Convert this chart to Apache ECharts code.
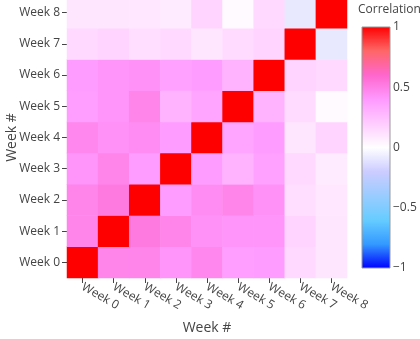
<!DOCTYPE html>
<html>
<head>
<meta charset="utf-8">
<script src="https://cdn.jsdelivr.net/npm/echarts@6/dist/echarts.min.js"></script>
<style>html,body{margin:0;padding:0;background:#fff}#c{width:420px;height:339px}</style>
</head>
<body>
<div id="c"></div>
<script>
const weeks = ['Week 0','Week 1','Week 2','Week 3','Week 4','Week 5','Week 6','Week 7','Week 8'];
// correlation rows (row i = Week i on y axis, entries by x-axis week)
const week0 = [1.00, 0.48, 0.48, 0.42, 0.47, 0.38, 0.39, 0.15, 0.10];
const week1 = [0.48, 1.00, 0.52, 0.48, 0.43, 0.42, 0.42, 0.17, 0.10];
const week2 = [0.48, 0.52, 1.00, 0.39, 0.45, 0.48, 0.43, 0.13, 0.09];
const week3 = [0.42, 0.48, 0.39, 1.00, 0.39, 0.30, 0.37, 0.15, 0.08];
const week4 = [0.47, 0.43, 0.45, 0.39, 1.00, 0.355, 0.39, 0.10, 0.17];
const week5 = [0.38, 0.42, 0.48, 0.30, 0.355, 1.00, 0.30, 0.14, 0.02];
const week6 = [0.39, 0.42, 0.43, 0.37, 0.39, 0.30, 1.00, 0.17, 0.15];
const week7 = [0.15, 0.17, 0.13, 0.15, 0.10, 0.14, 0.17, 1.00, -0.09];
const week8 = [0.10, 0.10, 0.09, 0.08, 0.17, 0.02, 0.15, -0.09, 1.00];
const corrRows = [week0, week1, week2, week3, week4, week5, week6, week7, week8];
const colorbarTicks = [-1, -0.5, 0, 0.5, 1];

const picnic = ['rgb(0,0,255)','rgb(51,153,255)','rgb(102,204,255)','rgb(153,204,255)','rgb(204,204,255)',
  'rgb(255,255,255)','rgb(255,204,255)','rgb(255,153,255)','rgb(255,102,204)','rgb(255,102,102)','rgb(255,0,0)'];

const heatData = [];
corrRows.forEach((row, yi) => row.forEach((v, xi) => heatData.push([xi, yi, v])));

const stops = picnic.slice().reverse().map((c, i) => ({offset: i / (picnic.length - 1), color: c}));

const chart = echarts.init(document.getElementById('c'), null, {renderer: 'canvas'});
const txt = {color: '#444', fontFamily: 'Open Sans', fontSize: 12};
chart.setOption({
  animation: false,
  textStyle: {fontFamily: 'Open Sans'},
  title: {text: 'Correlation', left: 358, top: 4, padding: 0, textStyle: {color: '#444', fontFamily: 'Open Sans', fontSize: 12, fontWeight: 'normal'}},
  grid: [
    {left: 67, top: -3, width: 280, height: 281, outerBoundsMode: 'none', containLabel: false},
    {left: 362, top: 27, width: 28, height: 241, outerBoundsMode: 'none', containLabel: false}
  ],
  xAxis: [
    {type: 'category', gridIndex: 0, data: weeks,
      name: 'Week #', nameLocation: 'middle', nameGap: 43, nameMoveOverlap: false,
      nameTextStyle: {color: '#444', fontFamily: 'Open Sans', fontSize: 14},
      axisLine: {show: false}, splitLine: {show: false},
      axisTick: {show: true, alignWithLabel: true, length: 5, lineStyle: {color: '#444'}},
      axisLabel: Object.assign({rotate: -30, margin: 8, interval: 0}, txt)},
    {type: 'category', gridIndex: 1, data: ['cb'], show: false}
  ],
  yAxis: [
    {type: 'category', gridIndex: 0, data: weeks,
      name: 'Week #', nameLocation: 'middle', nameGap: 48, nameMoveOverlap: false,
      nameTextStyle: {color: '#444', fontFamily: 'Open Sans', fontSize: 14},
      axisLine: {show: false}, splitLine: {show: false},
      axisTick: {show: true, alignWithLabel: true, length: 5, lineStyle: {color: '#444'}},
      axisLabel: Object.assign({margin: 7, interval: 0}, txt)},
    {type: 'value', gridIndex: 1, min: -1, max: 1, interval: 0.5, position: 'right',
      axisLine: {show: false}, axisTick: {show: false}, splitLine: {show: false},
      axisLabel: Object.assign({margin: 3, formatter: v => String(v).replace('-', '\u2212')}, txt)}
  ],
  visualMap: {type: 'continuous', min: -1, max: 1, show: false, seriesIndex: 0, inRange: {color: picnic}},
  series: [
    {type: 'heatmap', xAxisIndex: 0, yAxisIndex: 0, data: heatData, itemStyle: {borderWidth: 0}},
    {type: 'custom', xAxisIndex: 1, yAxisIndex: 1, data: [[0, colorbarTicks[0], colorbarTicks[colorbarTicks.length - 1]]],
      renderItem: function (params, api) {
        const lo = api.coord([api.value(0), api.value(1)]);
        const hi = api.coord([api.value(0), api.value(2)]);
        const w = api.size([1, 0])[0];
        return {type: 'rect', shape: {x: lo[0] - w / 2, y: hi[1], width: w, height: lo[1] - hi[1]},
          style: {fill: new echarts.graphic.LinearGradient(0, 0, 0, 1, stops), stroke: '#999', lineWidth: 1}};
      }}
  ]
});
</script>
</body>
</html>
